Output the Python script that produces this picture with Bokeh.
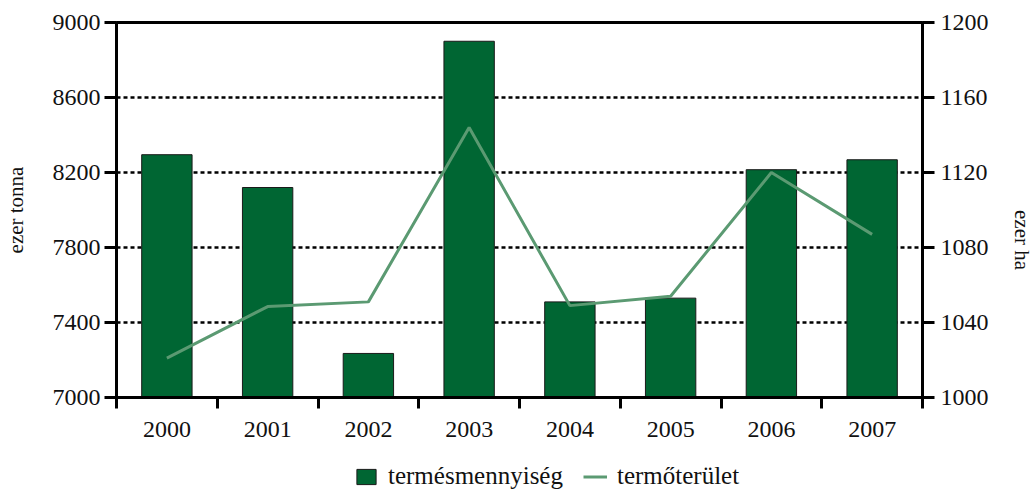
import math
from bokeh.plotting import figure
from bokeh.layouts import column
from bokeh.models import (Range1d, LinearAxis, FixedTicker, Legend, LegendItem,
                          ColumnDataSource)
from bokeh.embed import file_html
from bokeh.resources import INLINE

years = ["2000", "2001", "2002", "2003", "2004", "2005", "2006", "2007"]
termesmennyiseg = [8295, 8120, 7235, 8900, 7510, 7530, 8215, 8268]   # ezer tonna
termoterulet = [1021, 1048.5, 1051, 1144, 1049, 1054, 1120, 1087]     # ezer ha
left_ticks = [7000, 7400, 7800, 8200, 8600, 9000]
right_ticks = [1000, 1040, 1080, 1120, 1160, 1200]
series_names = ["termésmennyiség", "termőterület"]

FONT = "Liberation Serif"
BAR = "#006633"
LINE = "#5B9A72"
TXT = "#111111"

xc = [i + 0.5 for i in range(len(years))]
src = ColumnDataSource(dict(x=xc, t=termesmennyiseg, h=termoterulet))

p = figure(frame_width=806, frame_height=375, output_backend="svg", toolbar_location=None,
           x_range=Range1d(0, len(years)), y_range=Range1d(7000, 9000),
           min_border_left=108, min_border_right=113, min_border_top=22,
           min_border_bottom=58)
p.extra_y_ranges = {"ha": Range1d(1000, 1200)}

bars = p.vbar(x="x", top="t", bottom=7000, width=0.5, source=src,
              fill_color=BAR, line_color="#1a1a1a", line_width=1)
ln = p.line(x="x", y="h", source=src, y_range_name="ha",
            line_color=LINE, line_width=3)

p.xgrid.visible = False
p.ygrid.ticker = FixedTicker(ticks=[7400, 7800, 8200, 8600])
p.ygrid.grid_line_color = "black"
p.ygrid.grid_line_width = 2.5
p.ygrid.grid_line_dash = "4 3"

p.outline_line_color = "black"
p.outline_line_width = 3
p.outline_line_alpha = 1

# x axis
xa = p.xaxis[0]
xa.ticker = FixedTicker(ticks=xc, minor_ticks=list(range(len(years) + 1)))
xa.major_label_overrides = {x: y for x, y in zip(xc, years)}
xa.major_tick_out = 0
xa.major_tick_in = 0
xa.minor_tick_out = 11
xa.minor_tick_in = 0
xa.minor_tick_line_width = 3
xa.minor_tick_line_color = "black"
xa.axis_line_width = 3
xa.axis_line_color = "black"
xa.major_label_text_font = FONT
xa.major_label_text_font_size = "24px"
xa.major_label_text_color = TXT
xa.major_label_standoff = 13

# left axis
ya = p.yaxis[0]
ya.ticker = FixedTicker(ticks=left_ticks)
ya.major_tick_out = 12
ya.major_tick_in = 0
ya.major_tick_line_width = 3
ya.minor_tick_line_color = None
ya.axis_line_width = 3
ya.axis_line_color = "black"
ya.major_label_text_font = FONT
ya.major_label_text_font_size = "24px"
ya.major_label_text_color = TXT
ya.major_label_standoff = 4
ya.axis_label = "ezer tonna"
ya.axis_label_text_font = FONT
ya.axis_label_text_font_size = "21px"
ya.axis_label_text_font_style = "normal"
ya.axis_label_text_color = TXT
ya.axis_label_standoff = 22

# right axis
ra = LinearAxis(y_range_name="ha", ticker=FixedTicker(ticks=right_ticks))
ra.major_tick_out = 12
ra.major_tick_in = 0
ra.major_tick_line_width = 3
ra.minor_tick_line_color = None
ra.axis_line_width = 3
ra.axis_line_color = "black"
ra.major_label_text_font = FONT
ra.major_label_text_font_size = "24px"
ra.major_label_text_color = TXT
ra.major_label_standoff = 6
ra.axis_label = "ezer ha"
ra.axis_label_text_font = FONT
ra.axis_label_text_font_size = "21px"
ra.axis_label_text_font_style = "normal"
ra.axis_label_text_color = TXT
ra.axis_label_standoff = 30
ra.axis_label_orientation = -math.pi / 2
p.add_layout(ra, "right")

# legend strip: same series as hidden renderers, only their legend entries show
lg = figure(width=1035, height=35, output_backend="svg", toolbar_location=None,
            x_range=Range1d(0, len(years)), y_range=Range1d(0, 1), min_border=0)
lg.axis.visible = False
lg.grid.visible = False
lg.outline_line_color = None
lb = lg.vbar(x="x", top="t", bottom=7000, width=0.5, source=src,
             fill_color=BAR, line_color="#1a1a1a", line_width=1)
ll = lg.line(x="x", y="h", source=src, line_color=LINE, line_width=3)
lb.visible = False
ll.visible = False
legend = Legend(items=[LegendItem(label=series_names[0], renderers=[lb]),
                       LegendItem(label=series_names[1], renderers=[ll])],
                orientation="horizontal", location=(238, 0),
                label_text_font=FONT, label_text_font_size="25px",
                label_text_color=TXT,
                glyph_width=24, glyph_height=19, label_standoff=10,
                spacing=20, border_line_color=None, background_fill_alpha=0,
                inactive_fill_alpha=0, padding=0, margin=0)
lg.add_layout(legend, "center")

layout = column(p, lg, spacing=0)
open("out.html", "w").write(file_html(layout, INLINE))
